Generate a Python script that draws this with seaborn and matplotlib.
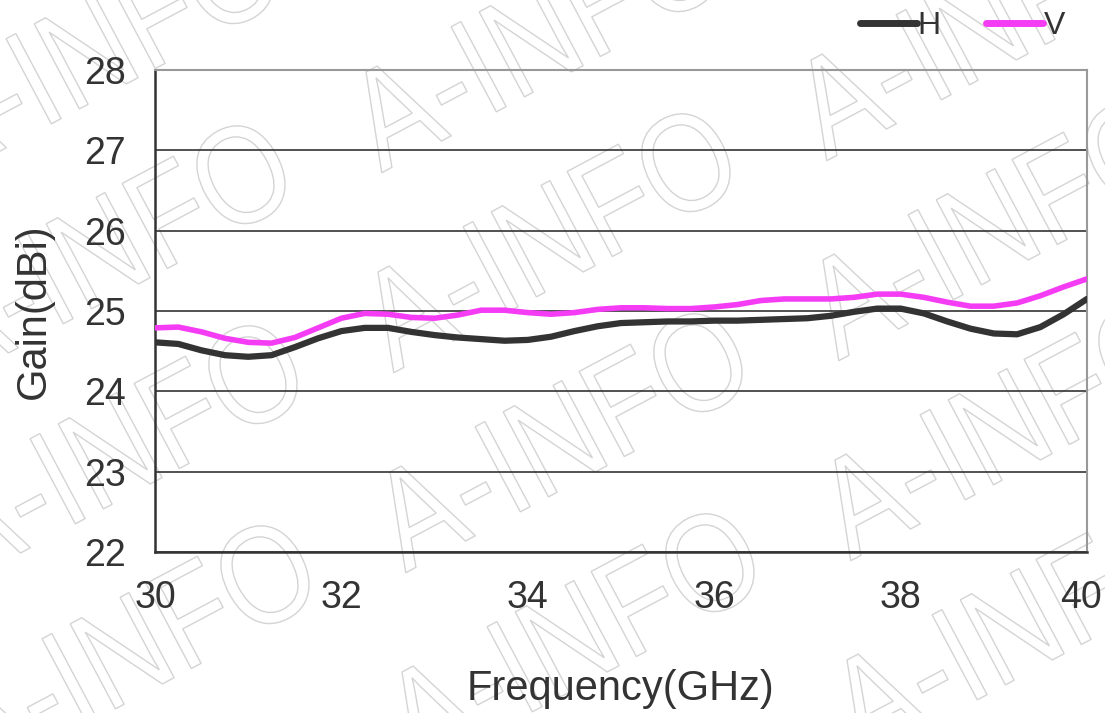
import numpy as np
import pandas as pd
import seaborn as sns
import matplotlib.pyplot as plt
from matplotlib.lines import Line2D
from matplotlib.textpath import TextPath
from matplotlib.patches import PathPatch
from matplotlib.font_manager import FontProperties
from matplotlib.transforms import Affine2D, ScaledTranslation

# Frequency points (GHz)
freq = [30.00, 30.25, 30.50, 30.75, 31.00, 31.25, 31.50, 31.75,
        32.00, 32.25, 32.50, 32.75, 33.00, 33.25, 33.50, 33.75,
        34.00, 34.25, 34.50, 34.75, 35.00, 35.25, 35.50, 35.75,
        36.00, 36.25, 36.50, 36.75, 37.00, 37.25, 37.50, 37.75,
        38.00, 38.25, 38.50, 38.75, 39.00, 39.25, 39.50, 39.75, 40.00]

# Gain (dBi) for each polarisation
gain_h = [24.61, 24.59, 24.51, 24.45, 24.43, 24.45, 24.55, 24.66,
          24.75, 24.79, 24.79, 24.74, 24.70, 24.67, 24.65, 24.63,
          24.64, 24.68, 24.75, 24.81, 24.85, 24.86, 24.87, 24.87,
          24.88, 24.88, 24.89, 24.90, 24.91, 24.94, 24.99, 25.03,
          25.03, 24.97, 24.87, 24.78, 24.72, 24.71, 24.80, 24.96, 25.15]
gain_v = [24.79, 24.80, 24.74, 24.66, 24.61, 24.60, 24.67, 24.79,
          24.91, 24.97, 24.96, 24.92, 24.91, 24.95, 25.01, 25.01,
          24.98, 24.96, 24.98, 25.02, 25.04, 25.04, 25.03, 25.03,
          25.05, 25.08, 25.13, 25.15, 25.15, 25.15, 25.17, 25.21,
          25.21, 25.17, 25.11, 25.06, 25.06, 25.10, 25.19, 25.30, 25.40]

x_ticks = [30, 32, 34, 36, 38, 40]
y_ticks = [22, 23, 24, 25, 26, 27, 28]

df = pd.DataFrame({'Frequency': freq * 2,
                   'Gain': gain_h + gain_v,
                   'Pol': ['H'] * len(freq) + ['V'] * len(freq)})

sns.set_theme(style="white")
plt.rcParams['font.family'] = ['Liberation Sans', 'DejaVu Sans']

W, H = 1105, 713
fig = plt.figure(figsize=(W / 100, H / 100), dpi=100)
ax = fig.add_axes([155 / W, 1 - 552 / H, 932 / W, 482 / H])

# rotated, condensed outline watermark tiled over the figure
em = 140
tp = TextPath((0, 0), 'A-INFO', size=em, prop=FontProperties(family='Liberation Sans'))
th = np.radians(28)
M = np.array([[np.cos(th), -np.sin(th)],
              [np.sin(th), np.cos(th)]]) @ np.diag([0.85, 1.0])
a_local = np.array([0.333 * em, 0.358 * em])
u = np.array([445, -12])
v = np.array([12, 200])
a0 = np.array([405, 310])
for i in range(-2, 3):
    for j in range(-2, 4):
        cx, cy = a0 + i * u + j * v
        off = np.array([cx, H - cy]) - M @ a_local
        mat = np.array([[M[0, 0], M[0, 1], off[0]],
                        [M[1, 0], M[1, 1], off[1]],
                        [0, 0, 1]])
        fig.add_artist(PathPatch(tp, transform=Affine2D(mat), facecolor='none',
                                 edgecolor='#d4d4d4', lw=1.0, zorder=-1))

palette = {'H': '#333333', 'V': '#f53cf5'}
sns.lineplot(data=df, x='Frequency', y='Gain', hue='Pol', palette=palette,
             linewidth=4.5, ax=ax, legend=False, zorder=3)
for ln in ax.lines:
    ln.set_solid_joinstyle('round')
ax.lines[1].set_linewidth(4.0)

ax.set_xlim(30, 40)
ax.set_ylim(22, 28)
ax.set_xticks(x_ticks)
ax.set_xticks(range(30, 41), minor=True)
ax.set_yticks(y_ticks)
ax.set_yticks([22.5 + i for i in range(6)], minor=True)
ax.yaxis.grid(True, color='#333333', linewidth=1.2)
ax.set_axisbelow(True)
ax.patch.set_alpha(0)

ax.tick_params(axis='y', which='major', labelsize=27, direction='in',
               length=0, pad=21, labelcolor='#333333')
ax.tick_params(axis='x', which='major', labelsize=27, direction='in',
               length=9, width=1.2, color='#333333', pad=20, labelcolor='#333333')
ax.tick_params(axis='both', which='minor', direction='in', length=9,
               width=1.2, color='#333333')

# last x label sits a little inside the figure edge
last = ax.get_xticklabels()[-1]
last.set_transform(last.get_transform() + ScaledTranslation(-0.06, 0, fig.dpi_scale_trans))

for side in ['left', 'bottom']:
    ax.spines[side].set_color('#333333')
    ax.spines[side].set_linewidth(1.8)
for side in ['top', 'right']:
    ax.spines[side].set_color('#999999')
    ax.spines[side].set_linewidth(1.5)

ax.set_xlabel('Frequency(GHz)', fontsize=30, color='#333333', labelpad=38)
ax.set_ylabel('Gain(dBi)', fontsize=30, color='#333333', labelpad=22)

handles = [Line2D([0], [0], color=palette[k], lw=5, solid_capstyle='round', label=k)
           for k in ['H', 'V']]
fig.legend(handles=handles, loc='upper right', bbox_to_anchor=(0.99, 1.025),
           ncol=2, frameon=False, fontsize=23, handlelength=1.8,
           handletextpad=0.02, columnspacing=1.4, labelcolor='#333333')

fig.savefig('out.png', dpi=100)
